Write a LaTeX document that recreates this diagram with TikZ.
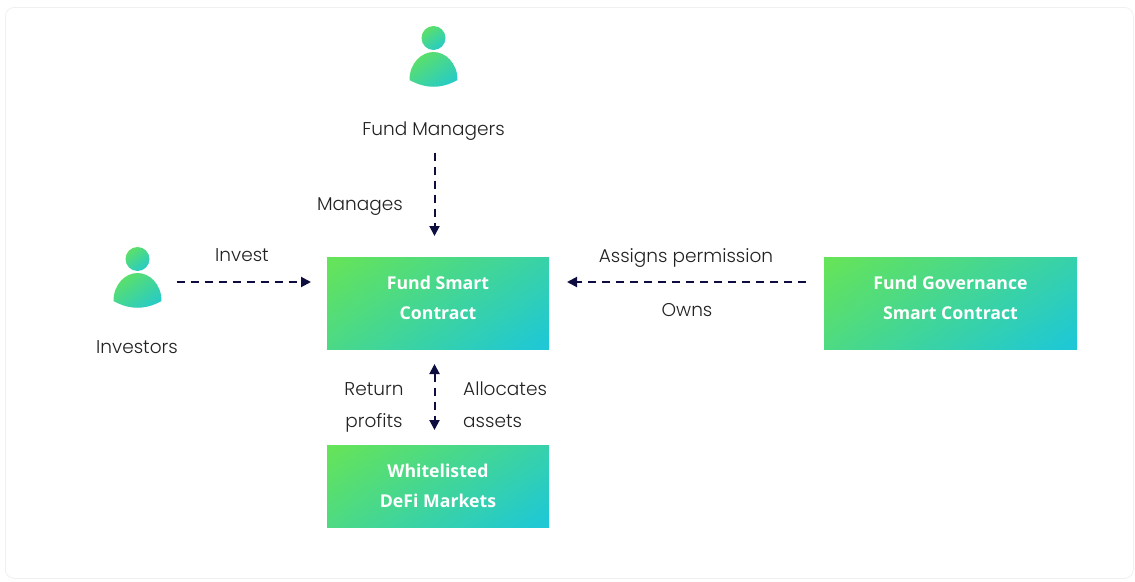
\documentclass[tikz,border=0pt]{standalone}
\usepackage{fontspec}
\setmainfont{Poppins}[UprightFont=* Light]
\newfontfamily\boxfont{Open Sans}[UprightFont=* Bold]
\usetikzlibrary{positioning,calc,arrows.meta}
\definecolor{boxgreen}{HTML}{64E35B}
\definecolor{boxteal}{HTML}{1FC8D4}
\definecolor{flowblue}{HTML}{0D0D3F}
\definecolor{labelgray}{HTML}{222222}
\pgfdeclareverticalshading{contractgrad}{100bp}{color(0bp)=(boxteal); color(18bp)=(boxteal); color(82bp)=(boxgreen); color(100bp)=(boxgreen)}
\tikzset{
    fillgrad/.style={shading=contractgrad, shading angle=35},
    person/.pic={
        \path[fillgrad] (0,0) circle (12);
        \path[fillgrad] (-24,42) .. controls (-24,25) and (-12,14) .. (0,14) .. controls (12,14) and (24,25) .. (24,42) .. controls (8,51) and (-8,51) .. (-24,42) -- cycle;
        \coordinate (-east) at (24,23);
    },
}

\begin{document}
\begin{tikzpicture}[x=1pt,y=-1pt,
    card/.style={draw=black!6, fill=white, rounded corners=9pt, line width=0.8pt},
    contract/.style={rectangle, fillgrad, minimum height=92pt, inner sep=0pt, outer sep=0pt, align=center, text=white, font=\boxfont\fontsize{17.7}{30}\selectfont},
    lbl/.style={align=center, text=labelgray, inner sep=0pt, font=\fontsize{18.5}{32}\selectfont},
    flow/.style={draw=flowblue, line width=2pt, dash pattern=on 8pt off 6pt, -{Triangle[length=10pt,width=10pt]}}]
  \useasboundingbox (0,0) rectangle (1135,581);
  \node [card, minimum width=1128pt, minimum height=571pt, anchor=north west] (cardback) at (5,7) {};

  \node [contract, minimum width=222pt, text depth=11pt] (fund) at (438,303) {Fund Smart\\Contract};
  \node [contract, minimum width=253pt, text depth=11pt, right=275pt of fund] (governance) {Fund Governance\\Smart Contract};
  \node [contract, minimum width=222pt, minimum height=82pt, below=96pt of fund] (markets) {Whitelisted\\DeFi Markets};

  \pic (managericon) at (433.5,38) {person};
  \pic (investoricon) at (137.5,259) {person};

  \node [lbl] (managers) at (433.5,131) {Fund Managers};
  \node [lbl] (investors) at (137,347) {Investors};
  \node [lbl] (manages) at (360,207) {Manages};
  \node [lbl] (invest) at (242,255) {Invest};
  \node [lbl] (assigns) at (686,258) {Assigns permission};
  \node [lbl] (owns) at (687,310) {Owns};
  \node [lbl] (profits) at (374,407) {Return\\profits};
  \node [lbl, align=left, anchor=west] (allocates) at (463,405) {Allocates\\assets};

  % ARROWS
  \coordinate (flowrow) at ($(fund.north)+(0,25)$);
  \draw[flow, shorten <=12pt, shorten >=21pt] (managers.south -| fund.north) ++(-3.5,0) coordinate (managersout) -- (managersout |- fund.north);
  \draw[flow, shorten <=15pt, shorten >=16pt] (investoricon-east |- flowrow) -- (flowrow -| fund.west);
  \draw[flow, shorten <=18pt, shorten >=18pt] (flowrow -| governance.west) -- (flowrow -| fund.east);
  \coordinate (linktop) at ($(fund.south)+(-3.5,0)$);
  \draw[flow, {Triangle[length=10pt,width=10pt]}-{Triangle[length=10pt,width=10pt]}, shorten <=15pt, shorten >=15pt] (linktop) -- (linktop |- markets.north);
\end{tikzpicture}
\end{document}
